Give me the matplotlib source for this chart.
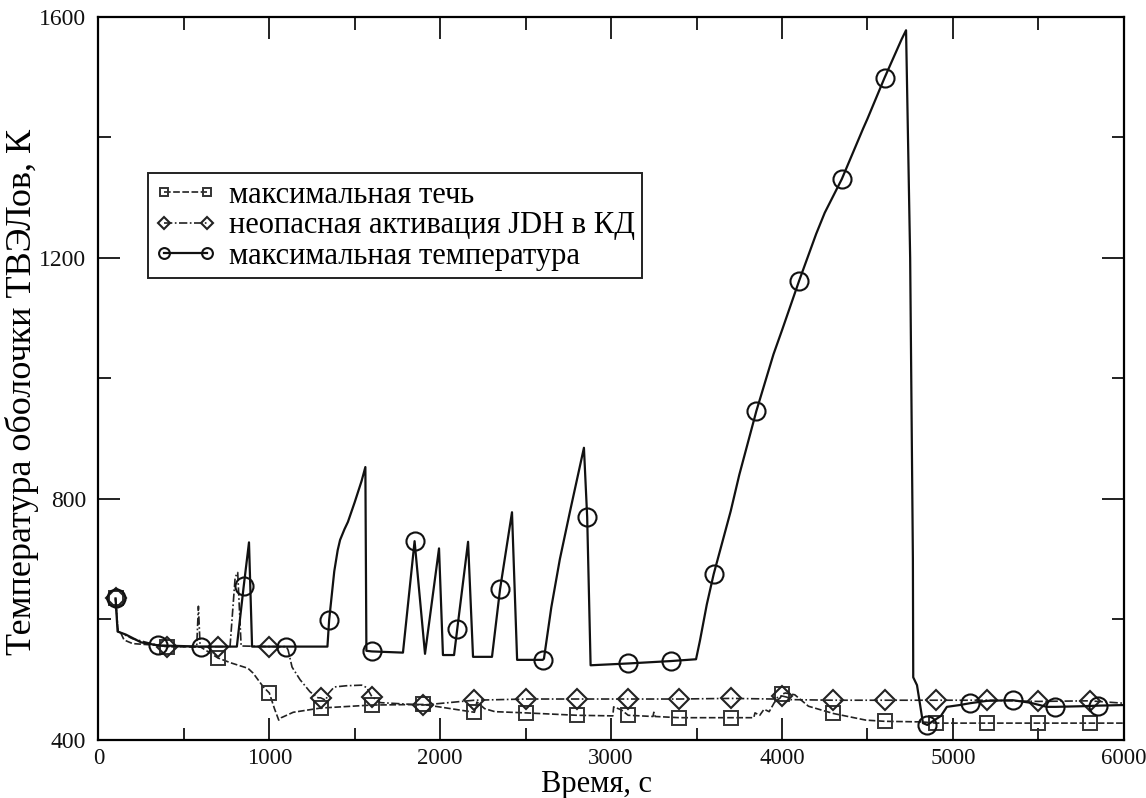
import matplotlib.pyplot as plt
from matplotlib.ticker import MultipleLocator

plt.rcParams['font.family'] = ['Liberation Serif', 'DejaVu Serif']

# максимальная течь
t_leak = [100, 115, 130, 150, 200, 350, 400, 600, 700, 775, 875, 905, 965, 1000, 1030,
          1055, 1070, 1140, 1300, 1600, 1900, 2200, 2215, 2260, 2320, 2500, 2800, 3010,
          3015, 3060, 3100, 3245, 3250, 3258, 3400, 3700, 3835, 3842, 3870, 3895, 3925,
          3955, 3990, 4000, 4020, 4075, 4155, 4300, 4490, 4600, 4820, 4900, 5200, 5500,
          5800, 6000]
T_leak = [635, 580, 578, 566, 560, 557, 555, 554, 536, 528, 519, 511, 488, 478, 452,
          433, 437, 446, 453, 458, 459, 446, 463, 452, 447, 445, 441, 440,
          455, 450, 441, 439, 446, 439, 437, 437, 437, 445, 441, 451, 447,
          462, 470, 476, 478, 475, 456, 444, 433, 431, 430, 428, 428, 428,
          428, 428]

# неопасная активация JDH в КД
t_jdh = [100, 115, 200, 350, 400, 575, 585, 595, 700, 770, 800, 815, 835, 1000, 1100,
         1110, 1133, 1180, 1238, 1285, 1300, 1330, 1345, 1380, 1450, 1540, 1570, 1600,
         1650, 1900, 2200, 2500, 2800, 3100, 3400, 3700, 3950, 4000, 4030, 4050, 4300,
         4600, 4900, 5200, 5500, 5800, 6000]
T_jdh = [635, 580, 568, 557, 555, 555, 622, 555, 555, 555, 670, 678, 556, 555, 555,
         549, 521, 500, 480, 470, 470, 466, 477, 488, 490, 491, 487, 472,
         462, 458, 466, 468, 468, 468, 468, 469, 468, 473, 471, 467, 466,
         466, 466, 466, 464, 465, 461]

# максимальная температура
t_temp = [100, 112, 160, 250, 350, 600, 810, 850, 881, 899, 1100, 1340, 1350, 1380,
          1400, 1414, 1440, 1460, 1500, 1540, 1562, 1568, 1600, 1782, 1850, 1911, 1993,
          2016, 2081, 2100, 2163, 2192, 2303, 2350, 2420, 2450, 2600, 2607, 2650, 2700,
          2760, 2841, 2860, 2880, 3100, 3350, 3497, 3520, 3560, 3600, 3700, 3750, 3850,
          3950, 4000, 4100, 4200, 4250, 4350, 4475, 4500, 4600, 4700, 4726, 4750, 4766,
          4768, 4790, 4825, 4850, 4930, 4965, 5040, 5100, 5200, 5350, 5450, 5550, 5600,
          5750, 5850, 6000]
T_temp = [635, 580, 575, 562, 557, 555, 555, 655, 728, 555, 555, 555, 599, 680,
          715, 732, 750, 762, 795, 830, 853, 548, 547, 545, 730, 543, 718,
          541, 541, 585, 729, 538, 538, 650, 778, 533, 533, 535, 620, 700,
          780, 885, 770, 524, 527, 531, 534, 565, 625, 675, 780, 840, 946,
          1040, 1080, 1162, 1240, 1275, 1331, 1415, 1431, 1499, 1563, 1578, 1200, 700,
          504, 491, 428, 425, 440, 455, 458, 461, 465, 466, 462, 455, 455,
          456, 457, 458]

marks_300 = [100, 400, 700, 1000, 1300, 1600, 1900, 2200, 2500, 2800, 3100, 3400,
             3700, 4000, 4300, 4600, 4900, 5200, 5500, 5800]
marks_temp = [100, 350, 600, 850, 1100, 1350, 1600, 1850, 2100, 2350, 2600, 2860,
              3100, 3350, 3600, 3850, 4100, 4350, 4600, 4850, 5100, 5350, 5600, 5850]

fig = plt.figure(figsize=(11.46, 7.98), dpi=100)
ax = fig.add_axes([0.0859, 0.0727, 0.8947, 0.9060])

ax.plot(t_leak, T_leak, color='#222222', lw=1.2, ls=(0, (4, 1.5)),
        marker='s', ms=10.5, mfc='none', mec='#333333', mew=1.4,
        markevery=[t_leak.index(m) for m in marks_300], label='максимальная течь')
ax.plot(t_jdh, T_jdh, color='#222222', lw=1.2, ls=(0, (5, 1.5, 1, 1.5)),
        marker='D', ms=10.5, mfc='none', mec='#222222', mew=1.5,
        markevery=[t_jdh.index(m) for m in marks_300],
        label='неопасная активация JDH в КД')
ax.plot(t_temp, T_temp, color='#111111', lw=1.6, ls='-',
        marker='o', ms=13, mfc='none', mec='#111111', mew=1.5,
        markevery=[t_temp.index(m) for m in marks_temp],
        label='максимальная температура')

ax.set_xlim(0, 6000)
ax.set_ylim(400, 1600)
ax.xaxis.set_major_locator(MultipleLocator(1000))
ax.xaxis.set_minor_locator(MultipleLocator(500))
ax.yaxis.set_major_locator(MultipleLocator(400))
ax.yaxis.set_minor_locator(MultipleLocator(200))
ax.tick_params(which='both', direction='in', top=True, right=True,
               labelsize=16.5, width=1.3, colors='#111111')
ax.tick_params(which='major', length=16, pad=6)
ax.tick_params(axis='y', which='major', pad=9, labelsize=17)
ax.tick_params(which='minor', length=9)
for s in ax.spines.values():
    s.set_linewidth(1.6)

ax.set_xlabel('Время, с', fontsize=22)
ax.xaxis.set_label_coords(0.486, -0.042)
ax.set_ylabel('Температура оболочки ТВЭЛов, К', fontsize=26)
ax.yaxis.set_label_coords(-0.058, 0.481)

leg = ax.legend(loc='upper left', bbox_to_anchor=(0.048, 0.784), borderaxespad=0,
                fontsize=22, fancybox=False, edgecolor='#222222', framealpha=1,
                numpoints=2, markerscale=0.6, handlelength=2.0, handletextpad=0.4,
                labelspacing=0.05, borderpad=0.25)
leg.get_frame().set_linewidth(1.4)

fig.savefig('out.png', dpi=100)
